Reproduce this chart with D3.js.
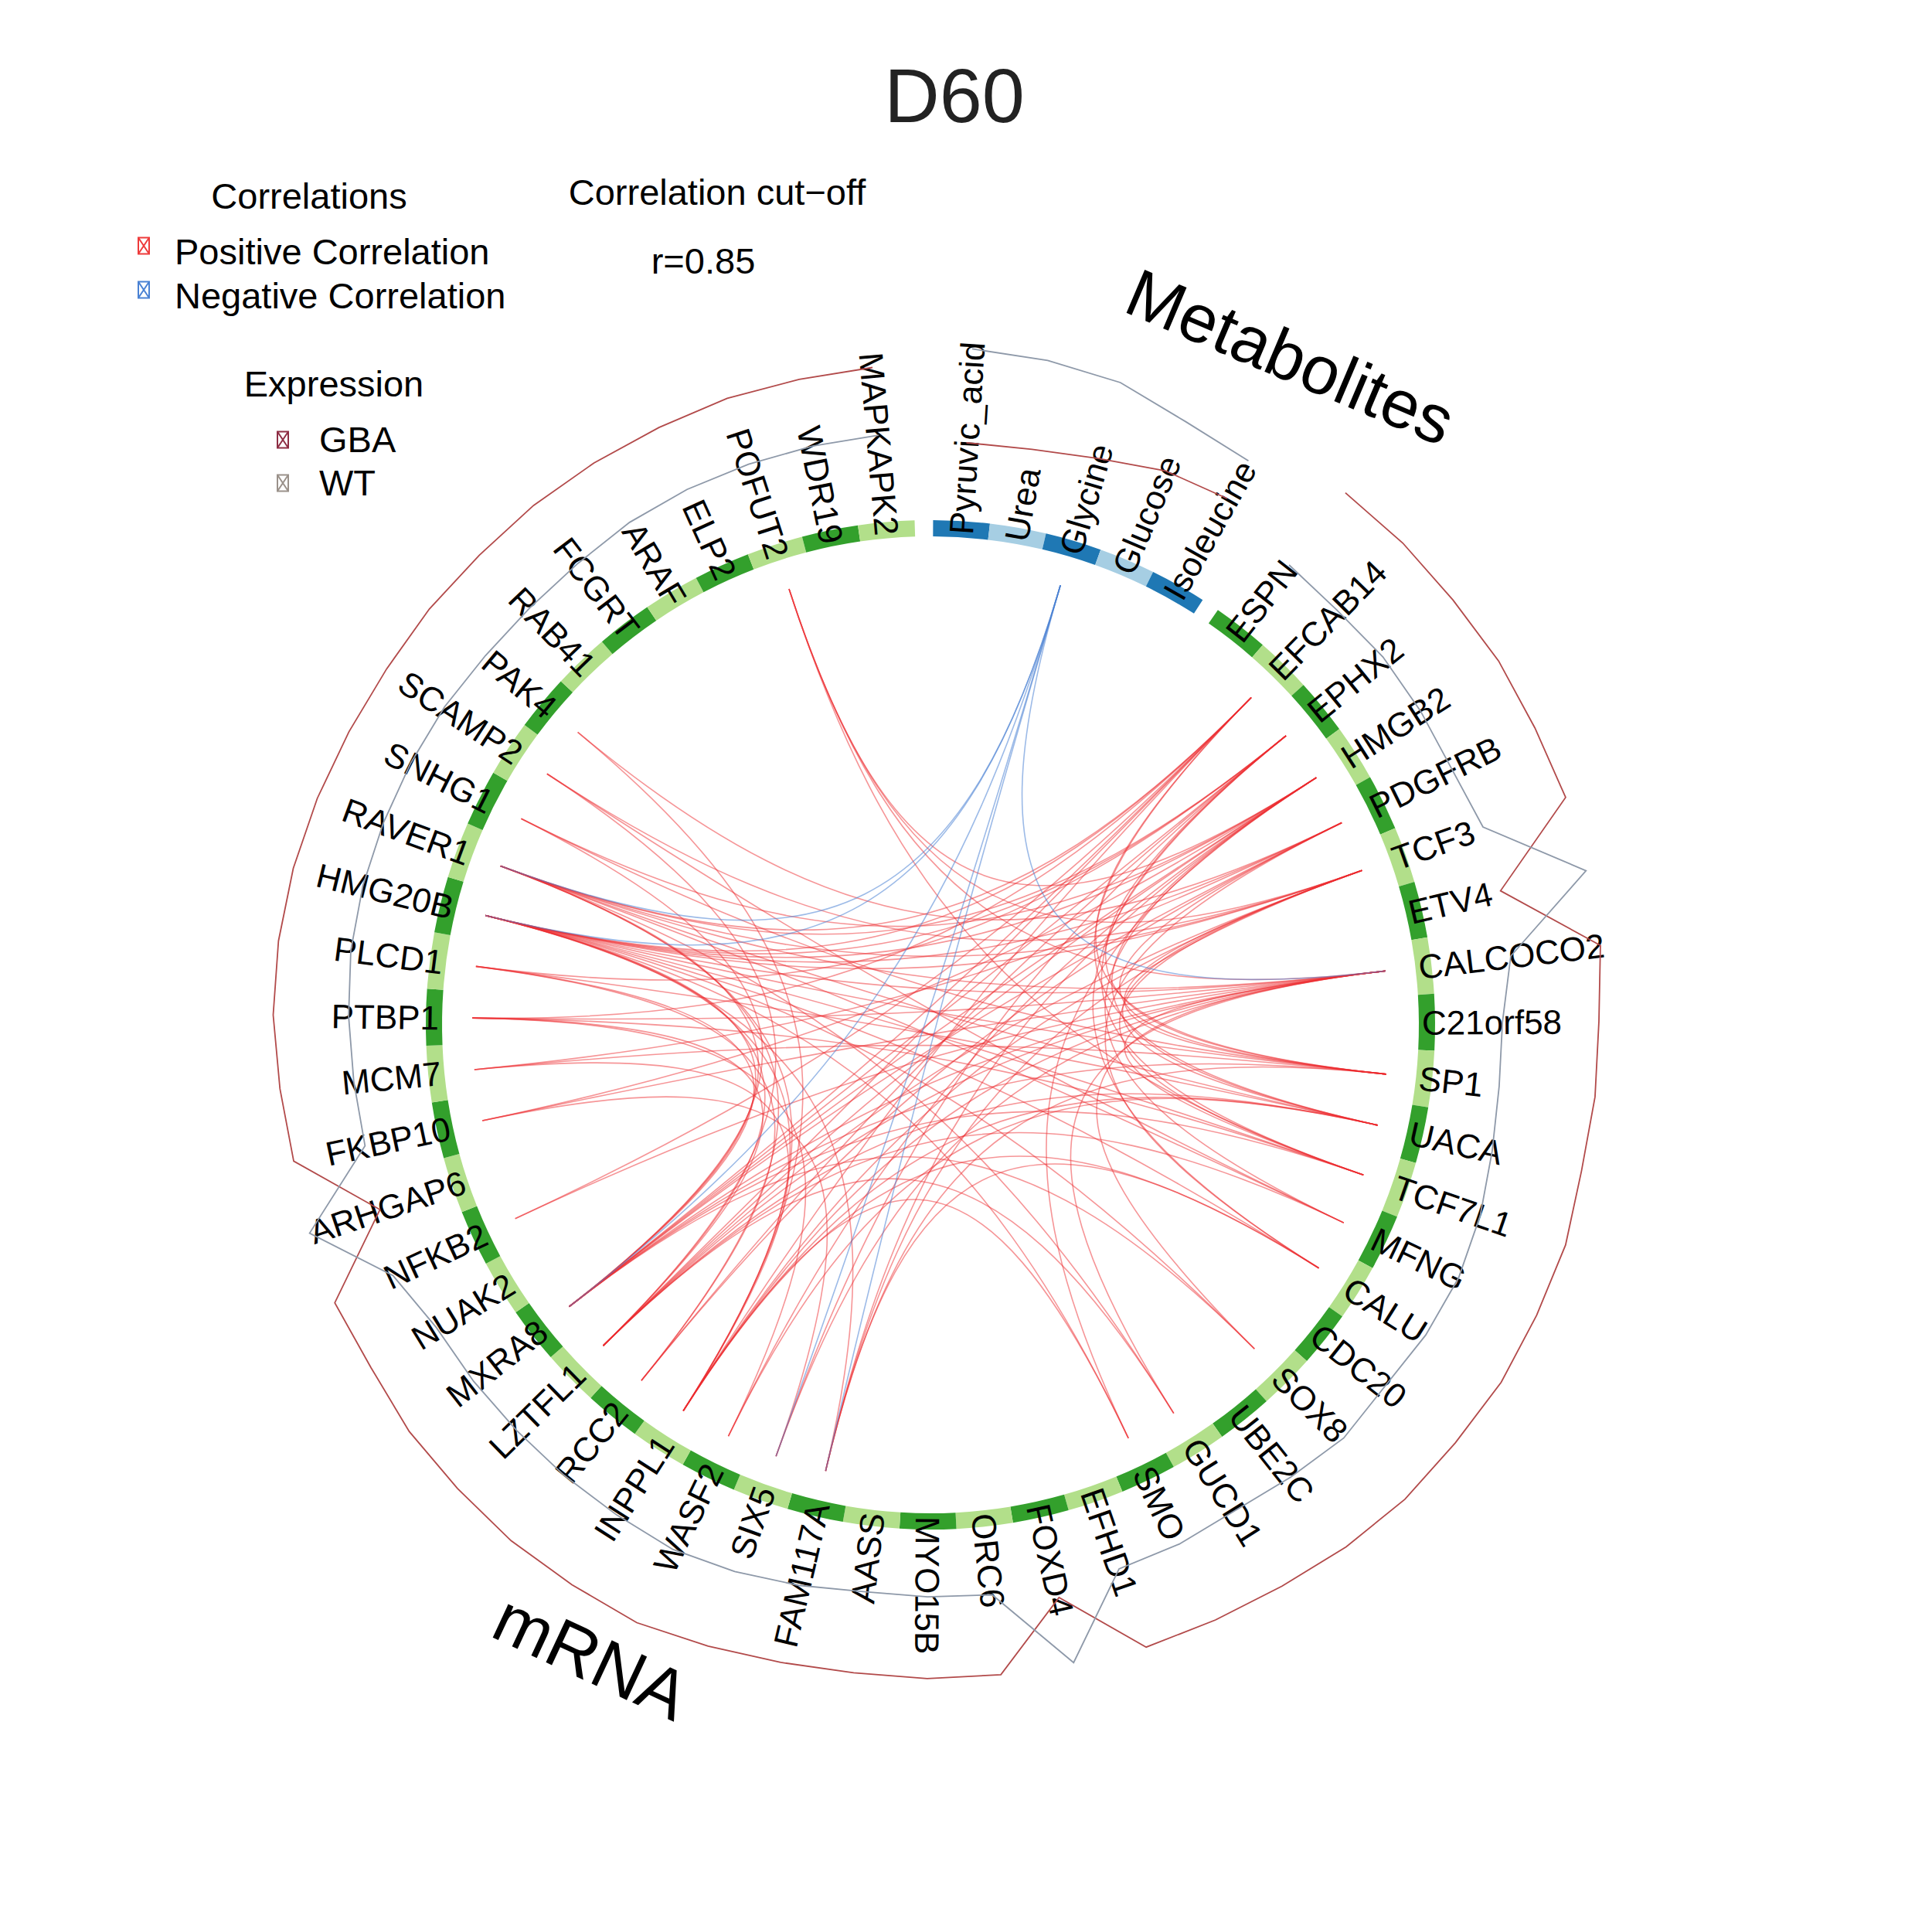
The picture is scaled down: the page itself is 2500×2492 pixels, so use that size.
<!DOCTYPE html>
<html>
<head>
<meta charset="utf-8">
<script src="https://cdn.jsdelivr.net/npm/d3@7"></script>
<style>
  body { margin: 0; background: #fff; }
  text { font-family: "Liberation Sans", Arial, sans-serif; }
</style>
</head>
<body>
<div id="chart"></div>
<script>
// ---- data ----
var metabolites = ["Pyruvic_acid", "Urea", "Glycine", "Glucose", "Isoleucine"];
var genes = ["ESPN", "EFCAB14", "EPHX2", "HMGB2", "PDGFRB", "TCF3", "ETV4", "CALCOCO2", "C21orf58", "SP1",
  "UACA", "TCF7L1", "MFNG", "CALU", "CDC20", "SOX8", "UBE2C", "GUCD1", "SMO", "EFHD1",
  "FOXD4", "ORC6", "MYO15B", "AASS", "FAM117A", "SIX5", "WASF2", "INPPL1", "RCC2", "LZTFL1",
  "MXRA8", "NUAK2", "NFKB2", "ARHGAP6", "FKBP10", "MCM7", "PTBP1", "PLCD1", "HMG20B", "RAVER1",
  "SNHG1", "SCAMP2", "PAK4", "RAB41", "FCGRT", "ARAF", "ELP2", "POFUT2", "WDR19", "MAPKAPK2"];

// mean expression per group (relative, 0..1 within block)
var metabGBA = [0.16, 0.17, 0.22, 0.31, 0.33];
var metabWT  = [0.92, 0.90, 0.86, 0.74, 0.68];
var geneGBA = [0.90, 0.90, 0.89, 0.90, 0.89, 0.90, 0.18, 0.90, 0.85, 0.85,
  0.84, 0.88, 0.88, 0.89, 0.87, 0.87, 0.84, 0.80, 0.78, 0.77,
  0.19, 0.73, 0.73, 0.72, 0.74, 0.78, 0.83, 0.82, 0.82, 0.80,
  0.79, 0.75, 0.76, 0.14, 0.71, 0.73, 0.76, 0.76, 0.75, 0.73,
  0.71, 0.70, 0.71, 0.71, 0.73, 0.74, 0.75, 0.77, 0.77, 0.78];
var geneWT = [0.16, 0.14, 0.16, 0.15, 0.14, 0.19, 0.89, 0.17, 0.07, 0.07,
  0.10, 0.15, 0.18, 0.17, 0.14, 0.17, 0.12, 0.08, 0.10, 0.10,
  0.73, 0.08, 0.07, 0.06, 0.10, 0.14, 0.17, 0.15, 0.14, 0.13,
  0.13, 0.13, 0.24, 0.74, 0.12, 0.13, 0.15, 0.17, 0.17, 0.16,
  0.15, 0.14, 0.12, 0.12, 0.14, 0.18, 0.20, 0.21, 0.22, 0.23];

// correlations above the cut-off (r > 0.85)
var posLinks = [
  // right side, among themselves
  ["EFCAB14","SP1"],["EFCAB14","UACA"],["EPHX2","TCF7L1"],["EPHX2","SP1"],["HMGB2","UACA"],["HMGB2","MFNG"],
  ["PDGFRB","SP1"],["PDGFRB","CALU"],["TCF3","SP1"],["TCF3","UACA"],["TCF3","TCF7L1"],["CALCOCO2","SOX8"],
  ["CALCOCO2","GUCD1"],["HMGB2","SMO"],["EPHX2","CALU"],["CALCOCO2","TCF7L1"],
  // left side, among themselves
  ["HMG20B","MXRA8"],["HMG20B","LZTFL1"],["HMG20B","INPPL1"],["RAVER1","MXRA8"],["RAVER1","INPPL1"],
  ["PTBP1","LZTFL1"],["PTBP1","WASF2"],["PLCD1","RCC2"],["FKBP10","SIX5"],["MCM7","INPPL1"],
  ["SNHG1","MXRA8"],["SCAMP2","LZTFL1"],["PAK4","INPPL1"],["HMG20B","FAM117A"],["RAVER1","RCC2"],["PLCD1","MXRA8"],
  // upper right - left
  ["EFCAB14","HMG20B"],["EFCAB14","RAVER1"],["EFCAB14","PTBP1"],["EPHX2","HMG20B"],["EPHX2","RAVER1"],
  ["EPHX2","PLCD1"],["HMGB2","HMG20B"],["HMGB2","SNHG1"],["HMGB2","FKBP10"],["PDGFRB","HMG20B"],
  ["PDGFRB","MCM7"],["PDGFRB","PAK4"],["TCF3","HMG20B"],["TCF3","SCAMP2"],["TCF3","RAVER1"],
  ["CALCOCO2","HMG20B"],["CALCOCO2","RAVER1"],["CALCOCO2","PTBP1"],["CALCOCO2","FKBP10"],
  // upper right - lower left
  ["EFCAB14","MXRA8"],["EFCAB14","LZTFL1"],["EFCAB14","INPPL1"],["EPHX2","MXRA8"],["EPHX2","RCC2"],
  ["EPHX2","SIX5"],["HMGB2","MXRA8"],["HMGB2","LZTFL1"],["HMGB2","FAM117A"],["HMGB2","WASF2"],
  ["PDGFRB","MXRA8"],["PDGFRB","RCC2"],["TCF3","LZTFL1"],["TCF3","INPPL1"],["TCF3","FAM117A"],
  ["CALCOCO2","MXRA8"],["CALCOCO2","LZTFL1"],["CALCOCO2","INPPL1"],["CALCOCO2","SIX5"],["CALCOCO2","NFKB2"],
  ["EFCAB14","NFKB2"],
  // lower right - left
  ["SP1","HMG20B"],["SP1","MCM7"],["SP1","SNHG1"],["UACA","RAVER1"],["UACA","PLCD1"],["TCF7L1","HMG20B"],
  ["TCF7L1","PTBP1"],["MFNG","RAVER1"],["MFNG","SCAMP2"],["CALU","HMG20B"],["SOX8","HMG20B"],
  ["GUCD1","RAVER1"],["SMO","HMG20B"],
  // lower right - lower left
  ["SP1","MXRA8"],["SP1","FAM117A"],["UACA","LZTFL1"],["UACA","WASF2"],["TCF7L1","MXRA8"],["MFNG","LZTFL1"],
  ["CALU","INPPL1"],["CALU","FAM117A"],["SOX8","MXRA8"],["GUCD1","LZTFL1"],["SMO","INPPL1"],["UACA","INPPL1"],
  // top
  ["POFUT2","HMGB2"],["POFUT2","TCF3"],["POFUT2","CALCOCO2"],["POFUT2","TCF7L1"]
];
// correlations below -0.85
var negLinks = [
  ["Glycine","HMG20B"],["Glycine","CALCOCO2"],["Glycine","FAM117A"],
  ["Glycine","SIX5"],["Glycine","MXRA8"],["Glycine","RAVER1"]
];

// ---- layout ----
var width = 2500, height = 2492
  , cx = 1204, cy = 1326
  , rBandIn = 632, rBandOut = 653
  , rLink = 593, rLabel = 636
  , labelSize = 44
  , pinch = 0.25;   // control points of the link curves, as share of the link radius

var angM = d3.scaleLinear().domain([0, metabolites.length]).range([0.3, 32.65]);
var angG = d3.scaleLinear().domain([0, genes.length]).range([34.72, 358.2]);
var rExpr = d3.scaleLinear().domain([0, 1]).range([729, 889]);
var rad = function(d) { return d * Math.PI / 180; };

var features = [];
metabolites.forEach(function(n, i) {
  features.push({name: n, block: "met", i: i, a0: angM(i), a1: angM(i + 1), mid: angM(i + 0.5)});
});
genes.forEach(function(n, i) {
  features.push({name: n, block: "rna", i: i, a0: angG(i), a1: angG(i + 1), mid: angG(i + 0.5)});
});
var byName = {};
features.forEach(function(f) { byName[f.name] = f; });

function pt(a, r) { return [r * Math.sin(rad(a)), -r * Math.cos(rad(a))]; }

var svg = d3.select("#chart").append("svg")
  .attr("width", width).attr("height", height)
  .style("background", "#fff");

var g = svg.append("g").attr("transform", "translate(" + cx + "," + cy + ")");

// links
function linkPath(d) {
  var a0 = byName[d[0]].mid, a1 = byName[d[1]].mid;
  var p0 = pt(a0, rLink), p3 = pt(a1, rLink);
  var c1 = pt(a0, rLink * pinch), c2 = pt(a1, rLink * pinch);
  var p = d3.path();
  p.moveTo(p0[0], p0[1]);
  p.bezierCurveTo(c1[0], c1[1], c2[0], c2[1], p3[0], p3[1]);
  return p.toString();
}
g.append("g").selectAll("path.pos").data(posLinks).enter().append("path")
  .attr("class", "pos")
  .attr("d", linkPath)
  .attr("fill", "none")
  .attr("stroke", "#EE2B2F")
  .attr("stroke-opacity", 0.5)
  .attr("stroke-width", 1.6);
g.append("g").selectAll("path.neg").data(negLinks).enter().append("path")
  .attr("class", "neg")
  .attr("d", linkPath)
  .attr("fill", "none")
  .attr("stroke", "#4A82D4")
  .attr("stroke-opacity", 0.55)
  .attr("stroke-width", 1.6);

// band
var arc = d3.arc().innerRadius(rBandIn).outerRadius(rBandOut);
g.append("g").selectAll("path").data(features).enter().append("path")
  .attr("d", function(d) { return arc({startAngle: rad(d.a0), endAngle: rad(d.a1)}); })
  .attr("fill", function(d) {
    if (d.block === "met") return d.i % 2 === 0 ? "#1F78B4" : "#A6CEE3";
    return d.i % 2 === 0 ? "#33A02C" : "#B2DF8A";
  });

// labels
g.append("g").selectAll("text").data(features).enter().append("text")
  .attr("transform", function(d) {
    var right = d.mid <= 181;
    return "rotate(" + (d.mid - 90) + ") translate(" + rLabel + ",0)" + (right ? "" : " rotate(180)");
  })
  .attr("text-anchor", function(d) { return d.mid <= 181 ? "start" : "end"; })
  .attr("dy", "0.36em")
  .attr("font-size", labelSize)
  .attr("fill", "#000")
  .text(function(d) { return d.name; });

// expression lines
var radial = d3.lineRadial()
  .angle(function(d) { return rad(d[0]); })
  .radius(function(d) { return rExpr(d[1]); });
var exprSeries = [
  {vals: metabGBA, ang: metabolites.map(function(n, i) { return angM(i + 0.5); }), col: "#B24A4A"},
  {vals: metabWT,  ang: metabolites.map(function(n, i) { return angM(i + 0.5); }), col: "#8E99A9"},
  {vals: geneGBA,  ang: genes.map(function(n, i) { return angG(i + 0.5); }), col: "#B24A4A"},
  {vals: geneWT,   ang: genes.map(function(n, i) { return angG(i + 0.5); }), col: "#8E99A9"}
];
exprSeries.forEach(function(s) {
  g.append("path")
    .attr("d", radial(s.ang.map(function(a, i) { return [a, s.vals[i]]; })))
    .attr("fill", "none")
    .attr("stroke", s.col)
    .attr("stroke-width", 1.8);
});

// block names
svg.append("text").attr("transform", "translate(1658,490) rotate(23)")
  .attr("text-anchor", "middle").attr("font-size", 88).text("Metabolites");
svg.append("text").attr("transform", "translate(752,2172) rotate(25)")
  .attr("text-anchor", "middle").attr("font-size", 90).text("mRNA");

// title
svg.append("text").attr("x", 1235).attr("y", 158)
  .attr("text-anchor", "middle").attr("font-size", 99).attr("fill", "#222").text("D60");

// legends
function marker(x, y, col) {
  var m = svg.append("g").attr("stroke", col).attr("stroke-width", 2).attr("fill", "none");
  m.append("rect").attr("x", x - 7).attr("y", y - 10.5).attr("width", 14).attr("height", 21);
  m.append("path").attr("d", "M" + (x - 7) + "," + (y - 10.5) + "L" + (x + 7) + "," + (y + 10.5) +
    "M" + (x + 7) + "," + (y - 10.5) + "L" + (x - 7) + "," + (y + 10.5));
}
var fs = 47;
svg.append("text").attr("x", 400).attr("y", 270).attr("text-anchor", "middle").attr("font-size", fs).text("Correlations");
marker(186, 318, "#EE3B3B");
svg.append("text").attr("x", 226).attr("y", 342).attr("font-size", fs).text("Positive Correlation");
marker(186, 375, "#4A82D4");
svg.append("text").attr("x", 226).attr("y", 399).attr("font-size", fs).text("Negative Correlation");

svg.append("text").attr("x", 928).attr("y", 265).attr("text-anchor", "middle").attr("font-size", fs).text("Correlation cut\u2212off");
svg.append("text").attr("x", 910).attr("y", 354).attr("text-anchor", "middle").attr("font-size", fs).text("r=0.85");

svg.append("text").attr("x", 432).attr("y", 513).attr("text-anchor", "middle").attr("font-size", fs).text("Expression");
marker(366, 569, "#8E2E44");
svg.append("text").attr("x", 413).attr("y", 585).attr("font-size", fs).text("GBA");
marker(366, 625, "#9A918A");
svg.append("text").attr("x", 413).attr("y", 641).attr("font-size", fs).text("WT");
</script>
</body>
</html>
